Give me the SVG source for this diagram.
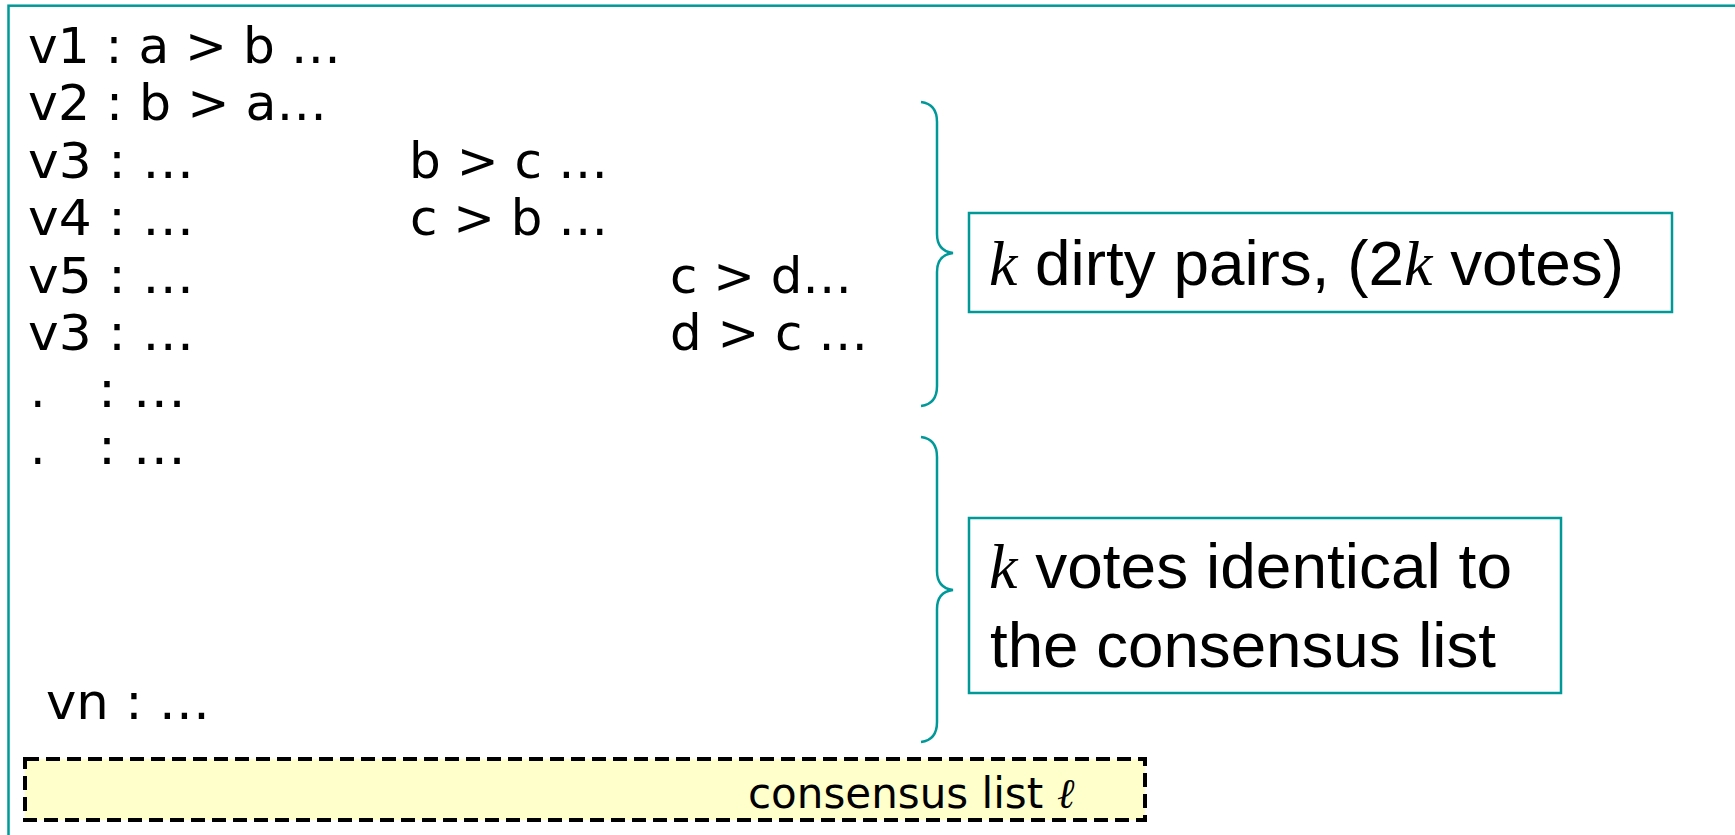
<svg xmlns="http://www.w3.org/2000/svg" width="1735" height="835" viewBox="0 0 1735 835">
<style>
.mono{font-family:"DejaVu Sans","Verdana",sans-serif;font-size:49px;fill:#000}
.lbl{font-family:"Liberation Sans",Arial,sans-serif;font-size:63px;fill:#000}
.k{font-family:"Liberation Serif","Times New Roman",serif;font-style:italic}
.brace{fill:none;stroke:#009999;stroke-width:2.5}
.box{fill:#fff;stroke:#009999;stroke-width:2.5}
</style>
<rect id="frame" x="8.5" y="5.7" width="2000" height="2000" fill="none" stroke="#009999" stroke-width="2.5"/>
<g id="votes">
<text class="mono" x="28" y="63" textLength="313" lengthAdjust="spacingAndGlyphs">v1 : a &gt; b …</text>
<text class="mono" x="28" y="120" textLength="299" lengthAdjust="spacingAndGlyphs">v2 : b &gt; a…</text>
<text class="mono" x="28" y="178" textLength="166" lengthAdjust="spacingAndGlyphs">v3 : …</text>
<text class="mono" x="409" y="178" textLength="199" lengthAdjust="spacingAndGlyphs">b &gt; c …</text>
<text class="mono" x="28" y="235" textLength="166" lengthAdjust="spacingAndGlyphs">v4 : …</text>
<text class="mono" x="410" y="235" textLength="198" lengthAdjust="spacingAndGlyphs">c &gt; b …</text>
<text class="mono" x="28" y="293" textLength="166" lengthAdjust="spacingAndGlyphs">v5 : …</text>
<text class="mono" x="670" y="293" textLength="182" lengthAdjust="spacingAndGlyphs">c &gt; d…</text>
<text class="mono" x="28" y="350" textLength="166" lengthAdjust="spacingAndGlyphs">v3 : …</text>
<text class="mono" x="670" y="350" textLength="198" lengthAdjust="spacingAndGlyphs">d &gt; c …</text>
<text class="mono" x="30" y="407">.</text>
<text class="mono" x="98" y="407" textLength="88" lengthAdjust="spacingAndGlyphs">: …</text>
<text class="mono" x="30" y="464">.</text>
<text class="mono" x="98" y="464" textLength="88" lengthAdjust="spacingAndGlyphs">: …</text>
<text class="mono" x="46" y="719" textLength="164" lengthAdjust="spacingAndGlyphs">vn : …</text>
</g>
<g id="consensus">
<rect x="25" y="759" width="1120" height="61" fill="#FFFFCC" stroke="#000" stroke-width="4" stroke-dasharray="14,7"/>
<text x="748" y="808" font-family="DejaVu Sans, Verdana, sans-serif" font-size="42">consensus list <tspan x="1057" font-family="Liberation Serif, DejaVu Serif, serif" font-style="italic">ℓ</tspan></text>
</g>
<g id="connectors">
<path class="brace" d="M921,102 Q937,104 937,122 L937,234 Q937,251 953,253 Q937,255 937,272 L937,386 Q937,404 921,406"/>
<path class="brace" d="M921,437 Q937,439 937,457 L937,571 Q937,588 953,590 Q937,592 937,609 L937,722 Q937,740 921,742"/>
</g>
<g id="dirty">
<rect class="box" x="969" y="213" width="703" height="99"/>
<text class="lbl" x="989" y="285" textLength="635" lengthAdjust="spacingAndGlyphs"><tspan class="k">k</tspan> dirty pairs, (2<tspan class="k">k</tspan> votes)</text>
</g>
<g id="identical">
<rect class="box" x="969" y="518" width="592" height="175"/>
<text class="lbl" x="989" y="588" textLength="523" lengthAdjust="spacingAndGlyphs"><tspan class="k">k</tspan> votes identical to</text>
<text class="lbl" x="990" y="667" textLength="506" lengthAdjust="spacingAndGlyphs">the consensus list</text>
</g>
</svg>
